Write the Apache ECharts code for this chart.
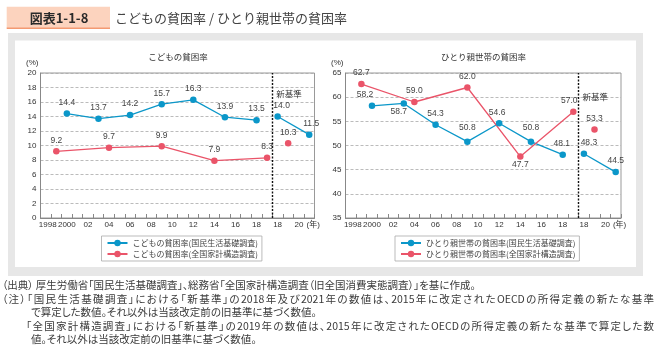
<!DOCTYPE html>
<html><head><meta charset="utf-8">
<script src="https://cdn.jsdelivr.net/npm/echarts@6/dist/echarts.min.js"></script>
<style>
html,body{margin:0;padding:0;background:#fff;}
#wrap{position:relative;width:663px;height:359px;overflow:hidden;}
#c{position:absolute;left:0;top:0;width:663px;height:359px;}
.l{position:absolute;font-family:"Noto Sans CJK JP",sans-serif;font-size:10.5px;line-height:14px;color:#3a3a3a;white-space:nowrap;font-feature-settings:"palt";}
.j{text-align:justify;text-align-last:justify;white-space:normal;}
</style>
</head><body><div id="wrap"><div id="c"></div>
<div class="l" style="left:2px;top:278px;">（出典） 厚生労働省「国民生活基礎調査」、総務省「全国家計構造調査（旧全国消費実態調査）」を基に作成。</div>
<div class="l j" style="left:2px;top:291.5px;width:652px;">（注）「国民生活基礎調査」における「新基準」の2018年及び2021年の数値は、2015年に改定されたOECDの所得定義の新たな基準</div>
<div class="l" style="left:31px;top:305px;">で算定した数値。それ以外は当該改定前の旧基準に基づく数値。</div>
<div class="l j" style="left:26px;top:318.5px;width:628px;">「全国家計構造調査」における「新基準」の2019年の数値は、2015年に改定されたOECDの所得定義の新たな基準で算定した数</div>
<div class="l" style="left:31px;top:332px;">値。それ以外は当該改定前の旧基準に基づく数値。</div>
</div>
<script>
// ---- data ----
const firstSlotYear = 1998;          // first slot on the x axis
const slotCount = 26;                // yearly slots 1998 .. 2023
const newBasisShift = 2;             // new-basis values are drawn two slots to the right
const breakSlot = 22;                // boundary where the new basis starts
const tickLabels = ['1998','2000','02','04','06','08','10','12','14','16','18','18','20'];

// こどもの貧困率
const childNLYears = [2000, 2003, 2006, 2009, 2012, 2015, 2018];
const childNL      = [14.4, 13.7, 14.2, 15.7, 16.3, 13.9, 13.5];
const childNLNewYears = [2018, 2021];
const childNLNew      = [14.0, 11.5];
const childFSYears = [1999, 2004, 2009, 2014, 2019];
const childFS      = [9.2, 9.7, 9.9, 7.9, 8.3];
const childFSNewYears = [2019];
const childFSNew      = [10.3];

// ひとり親世帯の貧困率
const singleNLYears = [2000, 2003, 2006, 2009, 2012, 2015, 2018];
const singleNL      = [58.2, 58.7, 54.3, 50.8, 54.6, 50.8, 48.1];
const singleNLNewYears = [2018, 2021];
const singleNLNew      = [48.3, 44.5];
const singleFSYears = [1999, 2004, 2009, 2014, 2019];
const singleFS      = [62.7, 59.0, 62.0, 47.7, 57.0];
const singleFSNewYears = [2019];
const singleFSNew      = [53.3];

const leftName1 = 'こどもの貧困率(国民生活基礎調査)';
const leftName2 = 'こどもの貧困率(全国家計構造調査)';
const rightName1 = 'ひとり親世帯の貧困率(国民生活基礎調査)';
const rightName2 = 'ひとり親世帯の貧困率(全国家計構造調査)';

// ---- label placement (styles) ----
const T = {}, B = {position:'bottom', distance:1};
const childNLLab = [T,T,T,T,T,T,T];
const childNLNewLab = [{offset:[4,0]},{offset:[2,0]}];
const childFSLab = [T,T,T,T,T];
const childFSNewLab = [T];
const singleNLLab = [{offset:[-7,0]}, Object.assign({offset:[-5,0]},B), T, {distance:6}, {offset:[-2,0]}, {distance:6}, {offset:[-1,0]}];
const singleNLNewLab = [{offset:[5,0]}, T];
const singleFSLab = [T,T,T,B,{offset:[-4,0]}];
const singleFSNewLab = [T];

const BLUE = '#0b97c9', RED = '#ea5469';
const FONT = '"Liberation Sans", "Noto Sans CJK JP", sans-serif';

const categories = Array.from({length: slotCount}, (_, i) => String(firstSlotYear + i));

function mk(name, years, vals, shift, color, labs, g) {
  return {
    name, type: 'line', xAxisIndex: g, yAxisIndex: g,
    symbol: 'circle', symbolSize: 6.5,
    itemStyle: {color}, lineStyle: {color, width: 1.3},
    label: {show: true, position: 'top', distance: 3.5, fontSize: 8.5, color: '#444', fontFamily: FONT,
            formatter: p => p.value[1].toFixed(1)},
    data: years.map((y, i) => ({value: [y - firstSlotYear + shift, vals[i]], label: labs[i]})),
    z: 3
  };
}

function catAxis(g) {
  return {
    type: 'category', gridIndex: g, data: categories, boundaryGap: true,
    axisLine: {lineStyle: {color: '#888', width: 1}},
    axisTick: {show: true, interval: 0, inside: true, length: 4, lineStyle: {color: '#888'}},
    axisLabel: {
      interval: 1, fontSize: 8, color: '#333', margin: 3, fontFamily: FONT,
      showMinLabel: true, hideOverlap: false,
      formatter: (v, i) => {
        const t = tickLabels[i / 2];
        if (i === 0) return '\u2002' + t;
        if (i === slotCount - 2) return '{h|}' + t + '{n|(年)}';
        return t;
      },
      rich: {
        h: {width: 17},
        n: {fontSize: 8, color: '#333', padding: [0, 0, 0, 3], fontFamily: FONT}
      }
    },
    splitLine: {show: false}
  };
}
function valAxis(g, min, max, interval) {
  return {
    type: 'value', gridIndex: g, min, max, interval,
    name: '(%)', nameLocation: 'end', nameGap: 6,
    nameTextStyle: {fontSize: 8, color: '#333', align: 'right', padding: [0, 2, 0, 0], fontFamily: FONT},
    axisLine: {show: true, lineStyle: {color: '#888'}},
    axisTick: {show: false},
    axisLabel: {fontSize: 8, color: '#333', margin: 4, fontFamily: FONT},
    splitLine: {show: true, lineStyle: {color: '#aaa', type: [3, 2], width: 0.8}}
  };
}
function breakSeries(g, labelY) {
  return {
    type: 'line', xAxisIndex: 2 + g, yAxisIndex: g, data: [], silent: true,
    markLine: {silent: true, symbol: 'none', label: {show: false},
      lineStyle: {color: '#111', type: [2, 1.5], width: 1.4},
      data: [{xAxis: breakSlot}]},
    markPoint: {silent: true, symbol: 'circle', symbolSize: 0,
      label: {show: true, formatter: '新基準', position: 'right', distance: 4, fontSize: 8.5, color: '#333', fontFamily: FONT},
      data: [{coord: [breakSlot, labelY]}]}
  };
}
function legend(left, names) {
  return {
    left, top: 236, orient: 'vertical', data: names,
    itemWidth: 20, itemHeight: 8, itemGap: 3,
    padding: [3, 4, 3, 5], borderColor: '#aaa', borderWidth: 0.8,
    lineStyle: {width: 2},
    textStyle: {fontSize: 8, color: '#444', fontFamily: '"Noto Sans CJK JP", sans-serif'},
    selectedMode: false
  };
}

const option = {
  animation: false,
  textStyle: {fontFamily: FONT},
  grid: [
    {left: 40.5, top: 73, width: 274, height: 145, show: true, borderColor: '#999', borderWidth: 1, backgroundColor: 'transparent'},
    {left: 345.5, top: 73, width: 275.5, height: 145, show: true, borderColor: '#999', borderWidth: 1, backgroundColor: 'transparent'}
  ],
  xAxis: [catAxis(0), catAxis(1),
    {type: 'value', gridIndex: 0, min: 0, max: slotCount, show: false},
    {type: 'value', gridIndex: 1, min: 0, max: slotCount, show: false}],
  yAxis: [valAxis(0, 0, 20, 2), valAxis(1, 35, 65, 5)],
  legend: [legend(101.5, [leftName1, leftName2]), legend(395, [rightName1, rightName2])],
  series: [
    mk(leftName1, childNLYears, childNL, 0, BLUE, childNLLab, 0),
    mk(leftName1, childNLNewYears, childNLNew, newBasisShift, BLUE, childNLNewLab, 0),
    mk(leftName2, childFSYears, childFS, 0, RED, childFSLab, 0),
    mk(leftName2, childFSNewYears, childFSNew, newBasisShift, RED, childFSNewLab, 0),
    mk(rightName1, singleNLYears, singleNL, 0, BLUE, singleNLLab, 1),
    mk(rightName1, singleNLNewYears, singleNLNew, newBasisShift, BLUE, singleNLNewLab, 1),
    mk(rightName2, singleFSYears, singleFS, 0, RED, singleFSLab, 1),
    mk(rightName2, singleFSNewYears, singleFSNew, newBasisShift, RED, singleFSNewLab, 1),
    breakSeries(0, 17),
    breakSeries(1, 60)
  ],
  graphic: [
    {type: 'rect', z: -10, shape: {x: 8, y: 33, width: 635, height: 243}, style: {fill: '#e7e7e7'}},
    {type: 'rect', z: -9, shape: {x: 15, y: 40.5, width: 621, height: 226.5}, style: {fill: '#ffffff'}},
    {type: 'rect', z: -9, shape: {x: 6.7, y: 6.7, width: 103.3, height: 21.6}, style: {fill: '#fcd3be'}},
    {type: 'line', z: -8, shape: {x1: 6.7, y1: 28.3, x2: 110, y2: 28.3}, style: {stroke: '#f39a72', lineWidth: 1.5}},
    {type: 'text', x: 59, y: 17.7, style: {text: '図表1-1-8', fill: '#2a2a2a', font: 'bold 13px "Noto Sans CJK JP", sans-serif', textAlign: 'center', textVerticalAlign: 'middle'}},
    {type: 'text', x: 115, y: 17.7, style: {text: 'こどもの貧困率 / ひとり親世帯の貧困率', fill: '#444', font: '13px "Noto Sans CJK JP", sans-serif', textAlign: 'left', textVerticalAlign: 'middle'}},
    {type: 'text', x: 178, y: 57, style: {text: 'こどもの貧困率', fill: '#333', font: '8.5px "Noto Sans CJK JP", sans-serif', textAlign: 'center', textVerticalAlign: 'middle'}},
    {type: 'text', x: 483.5, y: 57, style: {text: 'ひとり親世帯の貧困率', fill: '#333', font: '8.5px "Noto Sans CJK JP", sans-serif', textAlign: 'center', textVerticalAlign: 'middle'}}
  ]
};

const chart = echarts.init(document.getElementById('c'), null, {renderer: 'canvas'});
chart.setOption(option);
</script>
</body></html>
